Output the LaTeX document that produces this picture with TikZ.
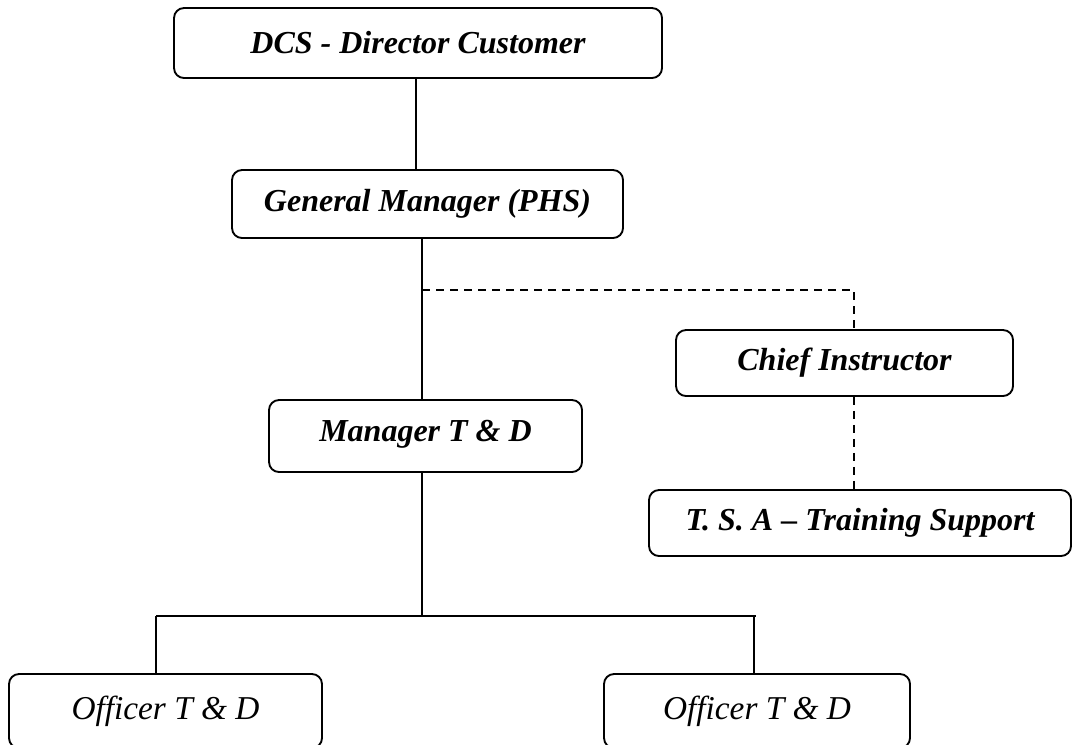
\documentclass[tikz,border=0pt]{standalone}
\usepackage{fontspec}
\setmainfont{Liberation Serif}
\begin{document}
\begin{tikzpicture}[x=0.75pt,y=-0.75pt,
  orgbox/.style={draw=black, line width=1.4pt, rounded corners=7.5pt, inner sep=0pt,
    font=\fontsize{24}{28}\selectfont\bfseries\itshape, align=center},
  offbox/.style={orgbox, font=\fontsize{25}{29}\selectfont\itshape},
  solidline/.style={draw=black, line width=1.4pt},
  dashline/.style={draw=black, line width=1.4pt, dash pattern=on 6pt off 4.5pt}]
\useasboundingbox (0,0) rectangle (1073,744);
\begin{scope}
\clip (0,0) rectangle (1073,744);
\node[orgbox, minimum width=366pt, minimum height=52.5pt] (dcs) at (418,43) {DCS - Director Customer};
\node[orgbox, minimum width=293.25pt, minimum height=51pt] (gm) at (427.5,204) {General Manager (PHS)};
\node[orgbox, minimum width=252.75pt, minimum height=49.5pt] (chief) at (844.5,363) {Chief Instructor};
\node[orgbox, minimum width=234.75pt, minimum height=54pt, text depth=8pt] (mgr) at (425.5,436) {Manager T \& D};
\node[orgbox, minimum width=316.5pt, minimum height=49.5pt] (tsa) at (860,523) {T. S. A – Training Support};
\node[offbox, minimum width=234.75pt, minimum height=55.5pt] (offl) at (165.5,711) {Officer T \& D};
\node[offbox, minimum width=229.5pt, minimum height=55.5pt] (offr) at (757,711) {Officer T \& D};
\end{scope}
\coordinate (xa) at (416,0);
\coordinate (xb) at (422,0);
\coordinate (xc) at (854,0);
\coordinate (xl) at (156,0);
\coordinate (xr) at (754,0);
\coordinate (jd) at (422,290);
\coordinate (hb) at (156,616);
\coordinate (hm) at (422,616);
\coordinate (he) at (756,616);
\draw[solidline] (xa |- dcs.south) -- (xa |- gm.north);
\draw[solidline] (xb |- gm.south) -- (xb |- mgr.north);
\draw[dashline] (jd) -| (xc |- chief.north);
\draw[dashline] (xc |- chief.south) -- (xc |- tsa.north);
\draw[solidline] (xb |- mgr.south) -- (hm);
\draw[solidline] (hb) -- (he);
\draw[solidline] (hb) -- (xl |- offl.north);
\draw[solidline] (xr |- hm) -- (xr |- offr.north);
\end{tikzpicture}
\end{document}
